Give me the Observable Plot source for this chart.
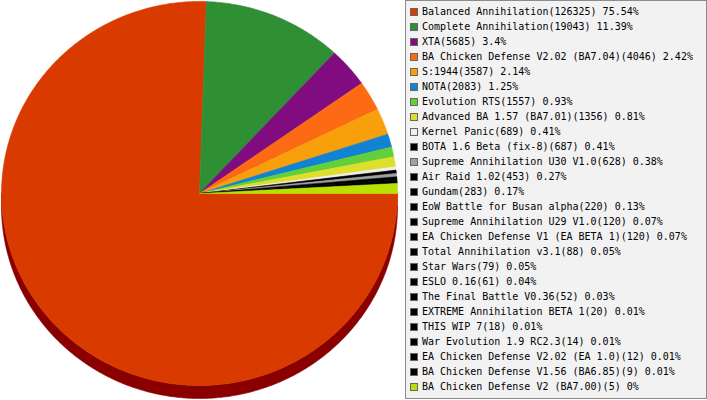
<!DOCTYPE html>
<html>
<head>
<meta charset="utf-8">
<script src="https://cdn.jsdelivr.net/npm/d3@7"></script>
<script src="https://cdn.jsdelivr.net/npm/@observablehq/plot@0.6"></script>
<style>
  html, body { margin: 0; padding: 0; background: #fff; }
  #wrap { position: relative; width: 707px; height: 400px; overflow: hidden; }
  #chart { position: absolute; left: 0; top: 0; }
  #legend {
    position: absolute; left: 405px; top: 0; width: 302px; height: 399px;
    box-sizing: border-box; border: 1px solid #8c8c8c; background: #f2f2f2;
    font-family: "DejaVu Sans Mono", monospace; font-size: 10px; color: #000;
  }
  .row { position: absolute; left: 0; height: 15px; line-height: 15px; white-space: nowrap; }
  .sw { position: absolute; left: 4px; top: 4px; width: 8px; height: 8px; box-sizing: border-box; border: 1px solid #666; }
  .lb { position: absolute; left: 16px; top: 0; }
</style>
</head>
<body>
<div id="wrap">
  <div id="chart"></div>
  <div id="legend"></div>
</div>
<script>
const names = [
  "Balanced Annihilation", "Complete Annihilation", "XTA",
  "BA Chicken Defense V2.02 (BA7.04)", "S:1944", "NOTA", "Evolution RTS",
  "Advanced BA 1.57 (BA7.01)", "Kernel Panic", "BOTA 1.6 Beta (fix-8)",
  "Supreme Annihilation U30 V1.0", "Air Raid 1.02", "Gundam",
  "EoW Battle for Busan alpha", "Supreme Annihilation U29 V1.0",
  "EA Chicken Defense V1 (EA BETA 1)", "Total Annihilation v3.1", "Star Wars",
  "ESLO 0.16", "The Final Battle V0.36", "EXTREME Annihilation BETA 1",
  "THIS WIP 7", "War Evolution 1.9 RC2.3", "EA Chicken Defense V2.02 (EA 1.0)",
  "BA Chicken Defense V1.56 (BA6.85)", "BA Chicken Defense V2 (BA7.00)"
];
const counts = [126325, 19043, 5685, 4046, 3587, 2083, 1557, 1356, 689, 687, 628, 453, 283,
  220, 120, 120, 88, 79, 61, 52, 20, 18, 14, 12, 9, 5];
const colors = ["#d93a00", "#2e8f35", "#800c80", "#fc6a14", "#f8a00c", "#1282d2", "#62d038",
  "#dede2c", "#eeeeee", "#000000", "#a0a0a0", "#000000", "#000000", "#000000", "#000000",
  "#000000", "#000000", "#000000", "#000000", "#000000", "#000000", "#000000", "#000000",
  "#000000", "#000000", "#b8e000"];
const sideColors = ["#8a0000"];

const total = d3.sum(counts);
const startAngle = 90;   // clock degrees (3 o'clock), slices go clockwise
const depth = 13 / 192;  // 3D side thickness in y-data units

// Whole-degree slice angles (the original renderer draws integer-degree arcs; last slice closes the circle)
const slices = [];
let a = startAngle;
counts.forEach((c, i) => {
  const deg = i === counts.length - 1 ? startAngle + 360 - a : Math.round(c / total * 360);
  slices.push({name: names[i], color: colors[i], a0: a, a1: a + deg});
  a += deg;
});

const rad = d => d * Math.PI / 180;
const pt = (th, dy = 0) => ({x: Math.sin(rad(th)), y: Math.cos(rad(th)) - dy});

// top face polygons
const facePts = [];
slices.forEach(s => {
  if (s.a1 <= s.a0) return;
  facePts.push({...pt(0), x: 0, y: 0, name: s.name, color: s.color});
  const n = Math.max(2, Math.ceil((s.a1 - s.a0) / 0.5));
  for (let k = 0; k <= n; k++) {
    const th = s.a0 + (s.a1 - s.a0) * k / n;
    facePts.push({...pt(th), name: s.name, color: s.color});
  }
  facePts.push({x: 0, y: 0, name: s.name, color: s.color});
});

// side (visible lower half, clock angles 90..270)
const sidePts = [];
slices.forEach((s, i) => {
  for (const off of [0, 360]) {
    const lo = Math.max(s.a0, 90 + off), hi = Math.min(s.a1, 270 + off);
    if (hi <= lo) continue;
    const col = sideColors[i] || d3.color(s.color).darker(1.2).formatHex();
    const key = s.name + off;
    const n = Math.max(2, Math.ceil((hi - lo) / 0.5));
    for (let k = 0; k <= n; k++) sidePts.push({...pt(lo + (hi - lo) * k / n), key, color: col});
    for (let k = n; k >= 0; k--) sidePts.push({...pt(lo + (hi - lo) * k / n, depth), key, color: col});
  }
});

const plot = Plot.plot({
  width: 405,
  height: 400,
  margin: 0,
  x: {domain: [-1, 1], range: [1, 397], axis: null},
  y: {domain: [-1, 1], range: [385, 1], axis: null},
  color: {type: "identity"},
  style: {background: "transparent", overflow: "visible"},
  marks: [
    Plot.line(sidePts, {x: "x", y: "y", z: "key", fill: "color", stroke: "color", strokeWidth: 0.6, curve: "linear"}),
    Plot.line(facePts, {x: "x", y: "y", z: "name", fill: "color", stroke: "color", strokeWidth: 0.6, curve: "linear"})
  ]
});
document.getElementById("chart").appendChild(plot);

// legend
const legend = document.getElementById("legend");
names.forEach((n, i) => {
  const pct = +(counts[i] / total * 100).toFixed(2);
  const row = document.createElement("div");
  row.className = "row";
  row.style.top = (3 + 15 * i) + "px";
  const sw = document.createElement("span");
  sw.className = "sw";
  sw.style.background = colors[i];
  const lb = document.createElement("span");
  lb.className = "lb";
  lb.textContent = `${n}(${counts[i]}) ${pct}%`;
  row.appendChild(sw);
  row.appendChild(lb);
  legend.appendChild(row);
});
</script>
</body>
</html>
